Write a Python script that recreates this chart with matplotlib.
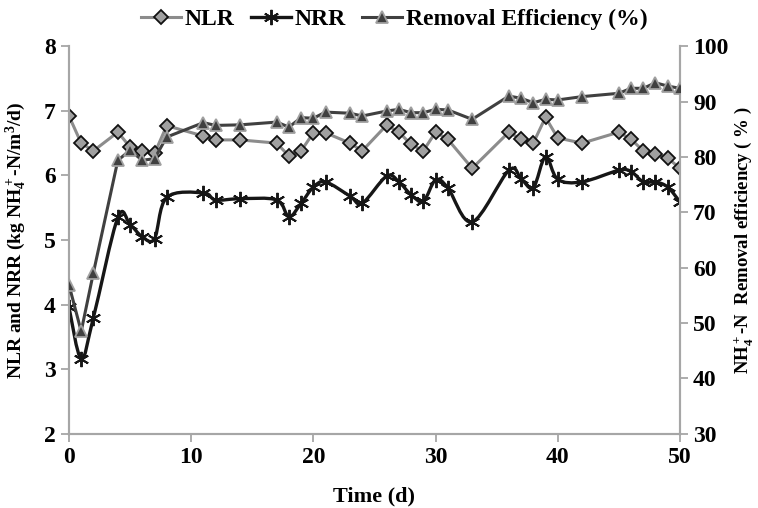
import numpy as np
import matplotlib
matplotlib.use("Agg")
import matplotlib.pyplot as plt
from matplotlib.path import Path
from matplotlib.patches import PathPatch
from matplotlib.lines import Line2D

days = [0, 1, 2, 4, 5, 6, 7, 8, 11, 12, 14, 17, 18, 19, 20, 21, 23, 24, 26, 27,
        28, 29, 30, 31, 33, 36, 37, 38, 39, 40, 42, 45, 46, 47, 48, 49, 50]
nlr = [6.92, 6.50, 6.38, 6.67, 6.44, 6.38, 6.34, 6.77, 6.61, 6.55, 6.55, 6.50, 6.30,
       6.38, 6.66, 6.66, 6.50, 6.38, 6.78, 6.67, 6.48, 6.38, 6.67, 6.56, 6.11, 6.67,
       6.56, 6.50, 6.90, 6.58, 6.50, 6.67, 6.56, 6.38, 6.33, 6.27, 6.11]
nrr = [3.96, 3.16, 3.80, 5.35, 5.24, 5.05, 5.02, 5.66, 5.73, 5.62, 5.64, 5.62, 5.36,
       5.57, 5.82, 5.90, 5.68, 5.57, 5.99, 5.90, 5.70, 5.60, 5.93, 5.81, 5.28, 6.08,
       5.95, 5.81, 6.29, 5.94, 5.90, 6.08, 6.06, 5.90, 5.90, 5.82, 5.59]
removal = [56.9, 48.5, 59.1, 79.4, 81.2, 79.4, 79.7, 83.6, 86.2, 85.7, 85.8, 86.3, 85.4,
           87.1, 87.0, 88.1, 87.9, 87.4, 88.3, 88.6, 88.0, 88.0, 88.6, 88.5, 86.8, 91.0,
           90.6, 89.8, 90.4, 90.3, 90.9, 91.5, 92.4, 92.4, 93.4, 92.8, 92.4]

SERIF = "Liberation Serif"
GRAY_AX = "#a6a6a6"

plt.rcParams["font.family"] = [SERIF, "DejaVu Serif"]
plt.rcParams["font.weight"] = "bold"
plt.rcParams["axes.labelweight"] = "bold"
plt.rcParams["mathtext.fontset"] = "custom"
plt.rcParams["mathtext.bf"] = SERIF + ":bold"
plt.rcParams["mathtext.rm"] = SERIF + ":bold"
plt.rcParams["mathtext.it"] = SERIF + ":bold"
plt.rcParams["mathtext.default"] = "bf"


def smooth_path(x, y):
    # Excel-like smoothed line: Catmull-Rom segments as cubic Beziers
    pts = np.column_stack([x, y]).astype(float)
    verts = [pts[0]]
    codes = [Path.MOVETO]
    n = len(pts)
    for i in range(n - 1):
        p0 = pts[i - 1] if i > 0 else pts[i]
        p1 = pts[i]
        p2 = pts[i + 1]
        p3 = pts[i + 2] if i + 2 < n else pts[i + 1]
        c1 = p1 + (p2 - p0) / 6.0
        c2 = p2 - (p3 - p1) / 6.0
        verts += [c1, c2, p2]
        codes += [Path.CURVE4] * 3
    return Path(verts, codes)


fig = plt.figure(figsize=(7.58, 5.08), dpi=100)
ax = fig.add_axes([0.091, 0.146, 0.806, 0.763])
ax2 = ax.twinx()

# NLR
ax.plot(days, nlr, color="#8c8c8c", lw=2.2, marker="D", ms=7.5,
        mfc="#a0a0a0", mec="#111111", mew=1.3, zorder=3)
# NRR (smoothed line)
ax.add_patch(PathPatch(smooth_path(days, nrr), fill=False, ec="#161616", lw=2.4, zorder=4))
ax.plot(days, nrr, ls="none", marker=(6, 2, 0), ms=11, mec="#161616", mew=1.4, zorder=4)
# Removal efficiency
ax2.plot(days, removal, color="#404040", lw=2.2, marker="^", ms=9,
         mfc="#404040", mec="#a0a0a0", mew=1.3, zorder=3)

ax.set_xlim(0, 50)
ax.set_ylim(2, 8)
ax2.set_ylim(30, 100)
ax.set_xticks(range(0, 51, 10))
ax.set_yticks(range(2, 9))
ax2.set_yticks(range(30, 101, 10))

for a in (ax, ax2):
    for s in a.spines.values():
        s.set_color(GRAY_AX)
        s.set_linewidth(1.5)
    a.spines["top"].set_visible(False)
    a.tick_params(direction="out", length=6, width=1.3, color=GRAY_AX, labelsize=17)

ax.set_xlabel("Time (d)", fontsize=16)
ax.xaxis.set_label_coords(0.5, -0.135)
ax.set_ylabel("NLR and NRR (kg NH$_4^+$-N/m$^3$/d)", fontsize=14)
ax.yaxis.set_label_coords(-0.065, 0.5)
ax2.set_ylabel("NH$_4^+$-N  Removal efficiency ( % )", fontsize=13.5)
ax2.yaxis.set_label_coords(1.086, 0.5)

handles = [
    Line2D([], [], color="#8c8c8c", lw=2.2, marker="D", ms=7.5, mfc="#a0a0a0",
           mec="#111111", mew=1.3),
    Line2D([], [], color="#161616", lw=2.4, marker=(6, 2, 0), ms=11, mew=1.4),
    Line2D([], [], color="#404040", lw=2.2, marker="^", ms=9, mfc="#404040",
           mec="#a0a0a0", mew=1.3),
]
fig.legend(handles, ["NLR", "NRR", "Removal Efficiency (%)"], loc="upper center",
           bbox_to_anchor=(0.52, 1.025), ncol=3, frameon=False, handlelength=1.7,
           columnspacing=0.7, handletextpad=0.15,
           prop={"family": SERIF, "weight": "bold", "size": 17})

fig.savefig("out.png", dpi=100)
